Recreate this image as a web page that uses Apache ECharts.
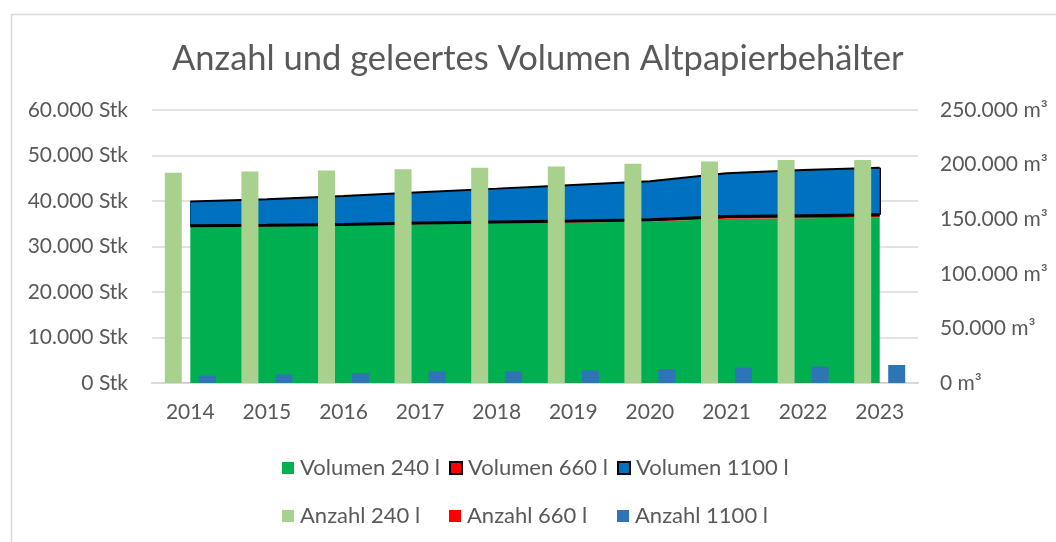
<!doctype html>
<html lang="de">
<head>
    <meta charset="UTF-8">
    <title>Altpapierbehälter</title>
    <script src="https://cdn.jsdelivr.net/npm/echarts@6/dist/echarts.min.js"></script>
    <style>
        html, body { margin: 0; padding: 0; background: #fff; }
        #main { width: 1056px; height: 542px; }
    </style>
</head>
<body>
<div id="main"></div>
<script type="text/javascript">
    // Jahre
    var years = ['2014', '2015', '2016', '2017', '2018', '2019', '2020', '2021', '2022', '2023'];
    // geleertes Volumen in m³ (rechte Achse, gestapelt)
    var vol240 = [143200, 143600, 144200, 145400, 146300, 146900, 147800, 150300, 150900, 151500];
    var vol660 = [800, 900, 1000, 1100, 1200, 1500, 1800, 2100, 2300, 2500];
    var vol1100 = [22100, 23800, 26100, 28200, 30500, 33000, 35200, 39700, 41900, 43200];
    // Anzahl Behälter in Stk (linke Achse)
    var cnt240 = [46200, 46500, 46700, 47000, 47300, 47600, 48200, 48700, 49000, 49000];
    var cnt660 = [20, 20, 20, 20, 20, 25, 25, 25, 25, 25];
    var cnt1100 = [1600, 1900, 2200, 2550, 2550, 2770, 3080, 3370, 3590, 3960];
    // Achsen
    var leftTicks = { min: 0, max: 60000, step: 10000 };
    var rightTicks = { min: 0, max: 250000, step: 50000 };

    var font = 'Lato';
    var grey = '#595959';

    //Tausenderpunkt
    var fmt = function (v) {
        return String(v).replace(/\B(?=(\d{3})+(?!\d))/g, '.');
    };

    // Randlinien links/rechts der blauen Fläche (aus den Daten)
    var lastIdx = years.length - 1;
    var edge = function (i) {
        var bottom = vol240[i] + vol660[i];
        return [{ coord: [years[i], bottom] }, { coord: [years[i], bottom + vol1100[i]] }];
    };

    // Legende: 2 Zeilen x 3 Spalten, jeder Eintrag eigene Legende
    var legendItems = [
        { name: 'Volumen 240 l', itemStyle: { color: '#00B050', borderWidth: 0 } },
        { name: 'Volumen 660 l', itemStyle: { color: '#FF0000', borderColor: '#000', borderWidth: 2 } },
        { name: 'Volumen 1100 l', itemStyle: { color: '#0070C0', borderColor: '#000', borderWidth: 2 } },
        { name: 'Anzahl 240 l', itemStyle: { color: '#A9D18E', borderWidth: 0 } },
        { name: 'Anzahl 660 l', itemStyle: { color: '#FF0000', borderWidth: 0 } },
        { name: 'Anzahl 1100 l', itemStyle: { color: '#2E75B6', borderWidth: 0 } }
    ];
    var legendCols = [277, 444, 612];
    var legendRows = [452, 500];
    var legends = [];
    legendItems.forEach(function (item, index) {
        legends.push({
            left: legendCols[index % 3], top: legendRows[Math.floor(index / 3)],
            itemWidth: 12, itemHeight: 12, selectedMode: false,
            textStyle: { fontFamily: font, fontSize: 22, color: grey, padding: [0, 0, 0, 1] },
            data: [{ name: item.name, icon: 'rect', itemStyle: item.itemStyle }]
        });
    });

    var myChart = echarts.init(document.getElementById('main'));
    var option = {
        animation: false,
        backgroundColor: '#fff',
        graphic: [{
            type: 'rect', left: 9, top: 12, silent: true,
            shape: { width: 1200, height: 700 },
            style: { fill: 'none', stroke: '#D9D9D9', lineWidth: 1.5 }
        }],
        title: {
            text: 'Anzahl und geleertes Volumen Altpapierbehälter',
            left: 167, top: 36,
            textStyle: { fontFamily: font, fontSize: 34.5, fontWeight: 'normal', color: grey }
        },
        legend: legends,
        grid: { left: 152, right: 138, top: 110, bottom: 159 },
        xAxis: {
            type: 'category',
            data: years,
            boundaryGap: true,
            axisLine: { lineStyle: { color: '#D9D9D9', width: 2 } },
            axisTick: { show: false },
            axisLabel: { margin: 19, fontFamily: font, fontSize: 21, color: grey }
        },
        yAxis: [{
            type: 'value',
            min: leftTicks.min, max: leftTicks.max, interval: leftTicks.step,
            axisLine: { show: false },
            axisTick: { show: false },
            splitLine: { lineStyle: { color: '#D9D9D9', width: 1.5 } },
            axisLabel: {
                margin: 24, fontFamily: font, fontSize: 21, color: grey,
                formatter: function (v) { return fmt(v) + ' Stk'; }
            }
        }, {
            type: 'value',
            min: rightTicks.min, max: rightTicks.max, interval: rightTicks.step,
            axisLine: { show: false },
            axisTick: { show: false },
            splitLine: { show: false },
            axisLabel: {
                margin: 22, fontFamily: font, fontSize: 21, color: grey,
                formatter: function (v) { return fmt(v) + ' m³'; }
            }
        }],
        series: [{
            name: 'Volumen 240 l', type: 'line', yAxisIndex: 1, stack: 'vol', z: 1,
            data: vol240, symbol: 'none', silent: true,
            lineStyle: { width: 0, color: '#00B050' },
            areaStyle: { color: '#00B050', opacity: 1 }
        }, {
            name: 'Volumen 660 l', type: 'line', yAxisIndex: 1, stack: 'vol', z: 1,
            data: vol660, symbol: 'none', silent: true,
            lineStyle: { width: 3, color: '#000' },
            areaStyle: { color: '#FF0000', opacity: 1 }
        }, {
            name: 'Volumen 1100 l', type: 'line', yAxisIndex: 1, stack: 'vol', z: 1,
            data: vol1100, symbol: 'none', silent: true,
            lineStyle: { width: 2, color: '#000' },
            areaStyle: { color: '#0070C0', opacity: 1 },
            markLine: {
                silent: true, symbol: 'none', label: { show: false }, z: 1,
                lineStyle: { color: '#000', width: 2, type: 'solid' },
                data: [edge(0), edge(lastIdx)]
            }
        }, {
            name: 'Anzahl 240 l', type: 'bar', yAxisIndex: 0, z: 5,
            data: cnt240, barWidth: 17, barGap: '0%',
            itemStyle: { color: '#A9D18E' }
        }, {
            name: 'Anzahl 660 l', type: 'bar', yAxisIndex: 0, z: 5,
            data: cnt660, barWidth: 17, barGap: '0%',
            itemStyle: { color: '#FF0000' }
        }, {
            name: 'Anzahl 1100 l', type: 'bar', yAxisIndex: 0, z: 5,
            data: cnt1100, barWidth: 17, barGap: '0%',
            itemStyle: { color: '#2E75B6' }
        }]
    };
    myChart.setOption(option);
</script>
</body>
</html>
